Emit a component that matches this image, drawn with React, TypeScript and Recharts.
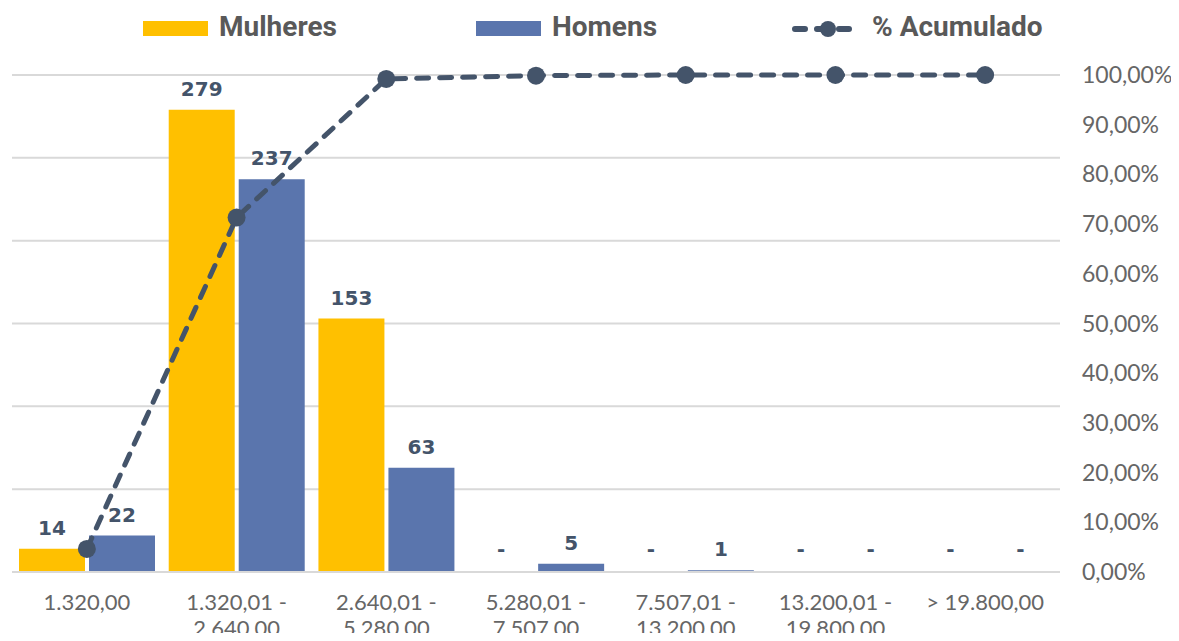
import {
  ComposedChart,
  Bar,
  Line,
  XAxis,
  YAxis,
  CartesianGrid,
  LabelList,
  Legend,
} from "recharts";

const categories = [
  "1.320,00",
  "1.320,01 -\n2.640,00",
  "2.640,01 -\n5.280,00",
  "5.280,01 -\n7.507,00",
  "7.507,01 -\n13.200,00",
  "13.200,01 -\n19.800,00",
  "> 19.800,00",
];
const mulheres = [14, 279, 153, 0, 0, 0, 0];
const homens = [22, 237, 63, 5, 1, 0, 0];
const acumulado = [4.65, 71.32, 99.22, 99.87, 100, 100, 100];

const countTicks = [0, 50, 100, 150, 200, 250, 300];
const pctTicks = [0, 10, 20, 30, 40, 50, 60, 70, 80, 90, 100];

const data = categories.map((name, i) => ({
  name,
  mulheres: mulheres[i],
  homens: homens[i],
  acumulado: acumulado[i],
}));

const GOLD = "#FFC000";
const BLUE = "#5A75AD";
const DARK = "#44546A";
const GREY = "#595959";

const fmtPct = (v: number) => v.toFixed(2).replace(".", ",") + "%";

const XTick = ({ x, y, payload }: any) => {
  const lines = String(payload.value).split("\n");
  return (
    <text x={x} y={y} textAnchor="middle" fill="#666" fontSize={22} fontFamily="Lato, sans-serif">
      {lines.map((l, i) => (
        <tspan key={i} x={x} dy={i === 0 ? 30 : 26}>
          {l}
        </tspan>
      ))}
    </text>
  );
};

const RightTick = ({ x, y, payload }: any) => (
  <text x={x + 14} y={y} dy={8} textAnchor="start" fill="#666" fontSize={23} fontFamily="Lato, sans-serif">
    {fmtPct(payload.value)}
  </text>
);

// value above each bar, "-" for zero
const BarLabel = ({ x, y, width, value }: any) => (
  <text
    x={x + width / 2}
    y={y - (value === 0 ? 16 : 14)}
    textAnchor="middle"
    fill={DARK}
    fontSize={20}
    fontWeight={700}
    fontFamily="'DejaVu Sans', sans-serif"
  >
    {value === 0 ? "-" : value}
  </text>
);

const legendText = {
  position: "absolute" as const,
  top: 12,
  fontSize: 28,
  fontWeight: 700,
  color: GREY,
  fontFamily: "'Liberation Sans Narrow', Roboto, sans-serif",
  lineHeight: "30px",
};

const LegendContent = () => (
  <div style={{ position: "relative", width: 1179, height: 60 }}>
    <div style={{ position: "absolute", left: 143, top: 21, width: 65, height: 15, background: GOLD }} />
    <span style={{ ...legendText, left: 219 }}>Mulheres</span>
    <div style={{ position: "absolute", left: 476, top: 21, width: 65, height: 15, background: BLUE }} />
    <span style={{ ...legendText, left: 552 }}>Homens</span>
    <svg style={{ position: "absolute", left: 790, top: 15 }} width={72} height={28}>
      <line x1={5} y1={14} x2={67} y2={14} stroke={DARK} strokeWidth={6} strokeDasharray="10 12" strokeLinecap="round" />
      <circle cx={38} cy={14} r={8} fill={DARK} />
    </svg>
    <span style={{ ...legendText, left: 872 }}>% Acumulado</span>
  </div>
);

export default function App() {
  return (
    <div style={{ margin: -8, width: 1179, height: 641, background: "#fff" }}>
      <ComposedChart
        width={1179}
        height={641}
        data={data}
        margin={{ top: 15, right: 0, bottom: 0, left: 12 }}
        barGap={4}
        barCategoryGap={7}
      >
        <Legend verticalAlign="top" height={60} content={<LegendContent />} wrapperStyle={{ top: 0, left: 0 }} />
        <CartesianGrid yAxisId="left" vertical={false} stroke="#D9D9D9" strokeWidth={2} />
        <XAxis
          dataKey="name"
          interval={0}
          axisLine={{ stroke: "#D9D9D9", strokeWidth: 2 }}
          tickLine={false}
          tick={<XTick />}
          height={69}
        />
        <YAxis yAxisId="left" hide domain={[0, 300]} ticks={countTicks} />
        <YAxis
          yAxisId="right"
          orientation="right"
          domain={[0, 100]}
          ticks={pctTicks}
          axisLine={false}
          tickLine={false}
          tick={<RightTick />}
          width={119}
        />
        <Bar yAxisId="left" dataKey="mulheres" fill={GOLD} minPointSize={0.01} isAnimationActive={false}>
          <LabelList dataKey="mulheres" content={<BarLabel />} />
        </Bar>
        <Bar yAxisId="left" dataKey="homens" fill={BLUE} minPointSize={0.01} isAnimationActive={false}>
          <LabelList dataKey="homens" content={<BarLabel />} />
        </Bar>
        <Line
          yAxisId="right"
          dataKey="acumulado"
          stroke={DARK}
          strokeWidth={5}
          strokeDasharray="12 11"
          strokeLinecap="round"
          dot={{ r: 9, fill: DARK, stroke: DARK, strokeWidth: 0 }}
          activeDot={false}
          isAnimationActive={false}
        />
      </ComposedChart>
    </div>
  );
}
